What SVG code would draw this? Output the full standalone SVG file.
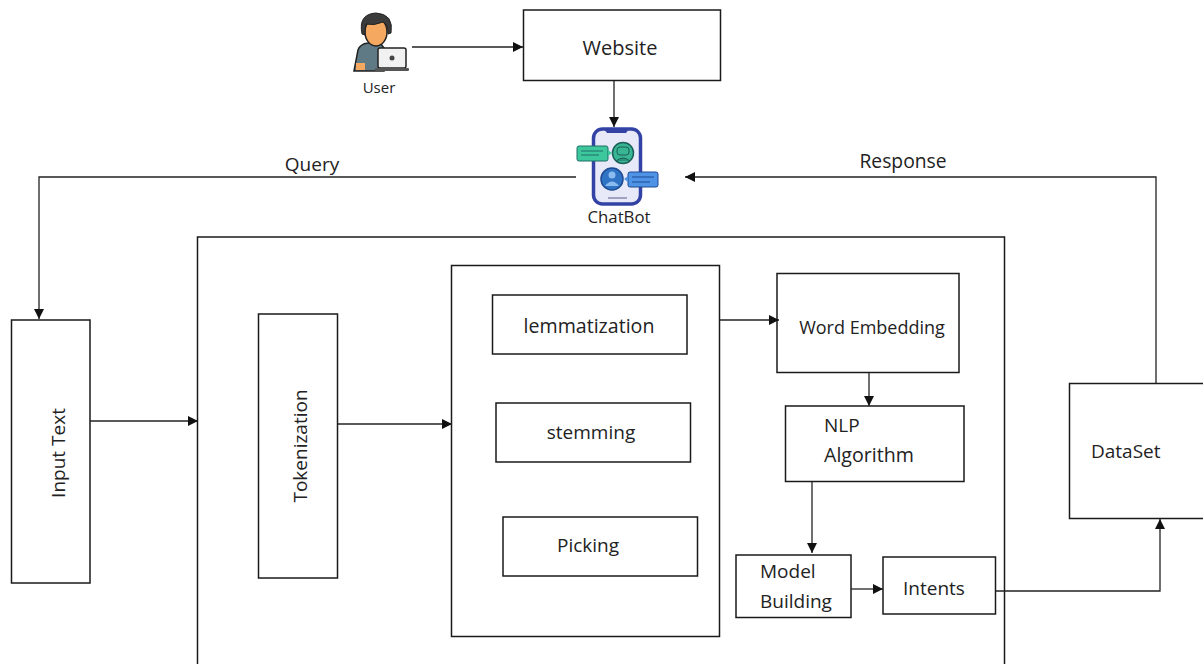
<svg xmlns="http://www.w3.org/2000/svg" width="1203" height="664" viewBox="0 0 1203 664">
<style>
.b{fill:#fff;stroke:#1a1a1a;stroke-width:1.5}
.c{fill:none;stroke:#222;stroke-width:1.3;marker-end:url(#a)}
text{font-family:"Open Sans","DejaVu Sans",sans-serif;fill:#222;font-size:19px}
.s{font-size:15px}
</style>
<defs><marker id="a" markerUnits="userSpaceOnUse" markerWidth="11" markerHeight="10" refX="10" refY="5" orient="auto"><path d="M0 0L10 5L0 10z" fill="#111"/></marker></defs>
<rect width="1203" height="664" fill="#fff"/>
<g id="user">
<path d="M354 71L358 50Q360 44 368 43L378 40L384 48L384 71z" fill="#5f7a85" stroke="#222" stroke-width="1.5"/>
<ellipse cx="376" cy="32" rx="11" ry="14" fill="#f4a860" stroke="#222" stroke-width="1.5"/>
<path d="M362 34Q358 14 376 13Q394 14 391 33L388 34Q388 24 383 22Q374 26 366 24Q365 28 365 35z" fill="#3b3b3b" stroke="#222"/>
<rect x="356" y="63" width="9" height="7" fill="#f4a860"/>
<rect x="378" y="48" width="28" height="20" rx="2" fill="#f1f1f1" stroke="#222" stroke-width="1.5"/>
<circle cx="392" cy="58" r="2.500" fill="#444"/>
<rect x="375" y="68" width="34" height="3" rx="1" fill="#555"/>
<text class="s" x="379" y="93" text-anchor="middle">User</text>
</g>
<g id="website"><rect class="b" x="523.500" y="10" width="197" height="70.500"/><text x="620" y="55" text-anchor="middle" style="font-size:20px">Website</text></g>
<g id="chatbot">
<rect x="593.500" y="129" width="47" height="75" rx="9" fill="#e8e9f8" stroke="#3343a5" stroke-width="3.500"/>
<path d="M604 129h25l-3 4h-19z" fill="#3343a5"/>
<line x1="608" y1="198" x2="627" y2="198" stroke="#8a8ab0" stroke-width="1.500"/>
<circle cx="623" cy="153" r="10.500" fill="#38b592" stroke="#1c5f58" stroke-width="1.500"/>
<rect x="617" y="147" width="12" height="8" rx="3" fill="#38b592" stroke="#1c5f58"/>
<path d="M616 161q7-6 14 0" fill="#2a9078" stroke="#1c5f58"/>
<rect x="577" y="146" width="31" height="15" rx="2" fill="#3cc79d" stroke="#1e6f66"/>
<path d="M608 150l4 3l-4 3z" fill="#3cc79d"/>
<path d="M581 151h22M581 155h18" stroke="#1e6f66" stroke-width="1.200"/>
<circle cx="612" cy="179" r="11" fill="#2f74c4" stroke="#1d4a92" stroke-width="1.500"/>
<circle cx="612" cy="175" r="3.500" fill="#8bbcf0"/>
<path d="M605 186q7-9 14 0z" fill="#8bbcf0"/>
<rect x="628" y="172" width="30" height="15" rx="2" fill="#4e93e6" stroke="#1d4a92"/>
<path d="M628 176l-4 3l4 3z" fill="#4e93e6"/>
<path d="M632 177h22M632 182h18" stroke="#1d4a92" stroke-width="1.200"/>
<text x="619" y="223" text-anchor="middle" style="font-size:16.800px">ChatBot</text>
</g>
<g id="system"><path class="b" d="M197.500 664V237H1004.500V664"/></g>
<g id="input-text"><rect class="b" x="11.500" y="320" width="78.500" height="263"/><text transform="translate(65 453) rotate(-90)" text-anchor="middle">Input Text</text></g>
<g id="tokenization"><rect class="b" x="258.500" y="314" width="79" height="264"/><text transform="translate(307 446) rotate(-90)" text-anchor="middle">Tokenization</text></g>
<g id="preprocess"><rect class="b" x="451.500" y="265.500" width="268" height="371"/></g>
<g id="lemmatization"><rect class="b" x="492.500" y="295" width="194.500" height="59"/><text x="589" y="333" text-anchor="middle" style="font-size:19.600px">lemmatization</text></g>
<g id="stemming"><rect class="b" x="496" y="403" width="194.500" height="59"/><text x="591" y="439" text-anchor="middle">stemming</text></g>
<g id="picking"><rect class="b" x="503" y="517" width="194.500" height="59"/><text x="588" y="552" text-anchor="middle">Picking</text></g>
<g id="word-embedding"><rect class="b" x="777" y="273.500" width="182" height="99"/><text x="872" y="334" text-anchor="middle" style="font-size:18px">Word Embedding</text></g>
<g id="nlp"><rect class="b" x="785.500" y="406" width="178.500" height="75.500"/><text x="824" y="432">NLP</text><text x="824" y="462" style="font-size:19.600px">Algorithm</text></g>
<g id="model-building"><rect class="b" x="736" y="555" width="115" height="62.500"/><text x="760" y="578">Model</text><text x="760" y="608">Building</text></g>
<g id="intents"><rect class="b" x="883" y="557" width="112.500" height="57"/><text x="903" y="595">Intents</text></g>
<g id="dataset"><path class="b" d="M1203 383.500H1069.500V518.500H1203"/><text x="1091" y="458">DataSet</text></g>
<g id="connectors">
<path class="c" d="M412 47H523"/>
<path class="c" d="M614 81V127"/>
<path class="c" d="M576 177H39V319"/>
<path class="c" d="M1156 383V177H685"/>
<path class="c" d="M90 421H198"/>
<path class="c" d="M338 424H452"/>
<path class="c" d="M720 320H779"/>
<path class="c" d="M869 373V406"/>
<path class="c" d="M812 482V553"/>
<path class="c" d="M851 589H883"/>
<path class="c" d="M996 591H1160V519"/>
</g>
<g id="labels"><text x="312" y="171" text-anchor="middle">Query</text><text x="903" y="168" text-anchor="middle" style="font-size:19.300px">Response</text></g>
</svg>
